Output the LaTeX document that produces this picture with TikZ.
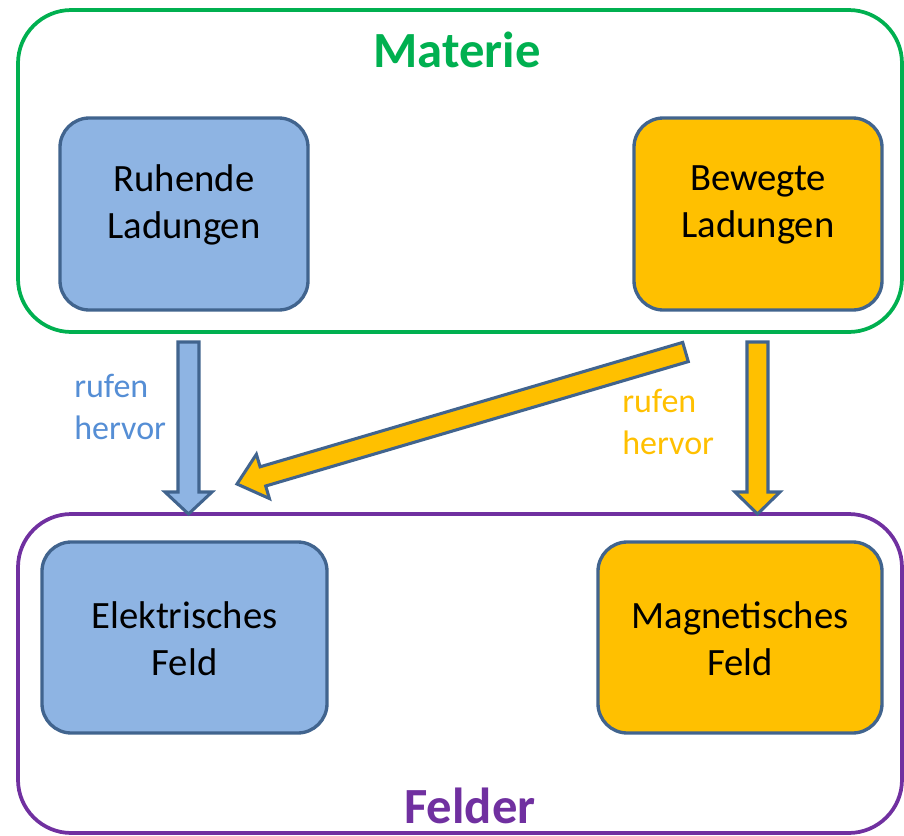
\documentclass[tikz,border=0pt]{standalone}
\usepackage{fontspec}
\setmainfont{Carlito}
\definecolor{mgreen}{HTML}{00B050}
\definecolor{mpurple}{HTML}{7030A0}
\definecolor{bfill}{HTML}{8EB4E3}
\definecolor{ofill}{HTML}{FFC000}
\definecolor{bordc}{HTML}{41648E}
\definecolor{btext}{HTML}{558ED5}
\definecolor{otext}{HTML}{FFC000}
\begin{document}
\begin{tikzpicture}[x=0.75pt,y=-0.75pt]
\tikzset{
  outerbox/.style={draw, line width=2.8pt, rounded corners=40pt, inner sep=0pt, outer sep=0pt},
  cbox/.style={draw=bordc, line width=2.5pt, rounded corners=22pt, inner sep=0pt, outer sep=0pt},
  boxtxt/.style={font=\fontsize{29}{35.5}\selectfont, align=center, text=black, inner sep=0pt},
  titletxt/.style={font=\fontsize{38}{44}\selectfont\bfseries, inner sep=0pt},
  lbl/.style={font=\fontsize{25.5}{32}\selectfont, align=left, inner sep=0pt, anchor=west},
  blockarrow/.style={draw=bordc, line width=2.3pt, line join=miter}
}
\useasboundingbox (0,0) rectangle (904,836);
\fill[white] (0,0) rectangle (904,836);

% outer frames
\node[outerbox, draw=mgreen, minimum width=663pt, minimum height=241.5pt] (materie) at (460,171) {};
\node[outerbox, draw=mpurple, minimum width=663pt, minimum height=239.25pt] (felder) at (460,673.5) {};

\node[titletxt, text=mgreen] (materieT) at (457,50) {Materie};
\node[titletxt, text=mpurple] (felderT) at (470,806) {Felder};

% inner boxes
\node[cbox, fill=bfill, minimum width=186pt, minimum height=144pt] (ruh) at (184,214) {};
\node[cbox, fill=ofill, minimum width=186pt, minimum height=144pt] (bew) at (758,214) {};
\node[cbox, fill=bfill, minimum width=213.75pt, minimum height=143.25pt] (ele) at (184.5,637.5) {};
\node[cbox, fill=ofill, minimum width=213pt, minimum height=143.25pt] (mag) at (740,637.5) {};

\node[boxtxt] (ruhT) at ([yshift=7pt]ruh.center) {Ruhende\\Ladungen};
\node[boxtxt] (bewT) at ([yshift=7pt]bew.center) {Bewegte\\Ladungen};
\node[boxtxt] (eleT) at ([yshift=-1pt]ele.center) {Elektrisches\\Feld};
\node[boxtxt] (magT) at ([yshift=-1pt]mag.center) {Magnetisches\\Feld};

% block arrows
\draw[blockarrow, fill=bfill] (178,342) -- (199,342) -- (199,492) -- (212,492) -- (188.5,514) -- (165,492) -- (178,492) -- cycle;
\draw[blockarrow, fill=ofill] (747,342) -- (768,342) -- (768,492) -- (780,492) -- (757.5,514) -- (735,492) -- (747,492) -- cycle;
\draw[blockarrow, fill=ofill] (682.7,342.4) -- (688.3,361.6) -- (265.7,486.0) -- (269.4,498.5) -- (237,484) -- (256.4,454.3) -- (260.1,466.8) -- cycle;

% labels
\node[lbl, text=btext] (lblL) at (74,407) {rufen\\hervor};
\node[lbl, text=otext] (lblR) at (622,422) {rufen\\hervor};
\end{tikzpicture}
\end{document}
